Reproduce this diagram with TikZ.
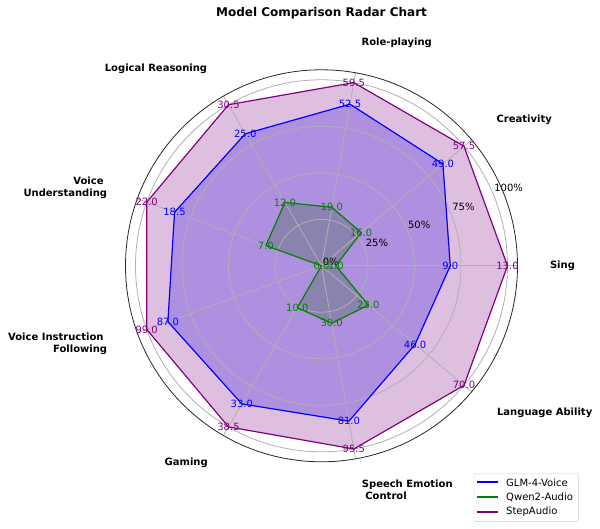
\documentclass[tikz,border=0pt]{standalone}
\usepackage{fontspec}
\setmainfont{DejaVu Sans}
\usepackage{tikz}
\usetikzlibrary{positioning}
\definecolor{glmblue}{RGB}{0,0,255}
\definecolor{qwengreen}{RGB}{0,128,0}
\definecolor{steppurple}{RGB}{128,0,128}
\definecolor{gridgray}{RGB}{176,176,176}

\begin{document}
\begin{tikzpicture}[x=1pt, y=1pt,
		gridline/.style = {gridgray, line width=0.8pt},
		axislabel/.style = {font=\fontsize{10}{11.6}\selectfont\bfseries, inner sep=0pt},
		val/.style = {font=\fontsize{10}{12}\selectfont, inner sep=0pt},
		model/.style = {draw=#1, line width=1.2pt},
		shade/.style = {fill=#1, fill opacity=0.25}]
	\useasboundingbox (-321.5,-263.2) rectangle (278.5,265.8);
	%\draw[help lines] (-300,-250) grid (250,250);
	\def\R{186}
	\coordinate (c) at (0,0);
	% vertices: value / max of the axis
	\foreach \v/\m [count=\i from 0] in {9/13,49/57.5,52.5/59.5,25/30.5,18.5/22,87/99,33/38.5,81/95.5,46/70}
		\coordinate (glm\i) at (\i*40:\v/\m*\R);
	\foreach \v/\m [count=\i from 0] in {1/13,16/57.5,19/59.5,12/30.5,7/22,0/99,10/38.5,30/95.5,23/70}
		\coordinate (qwen\i) at (\i*40:\v/\m*\R);
	\foreach \i in {0,...,8}
		\coordinate (stp\i) at (\i*40:\R);
	% fills first, grid over them
	\foreach \mo/\col in {glm/glmblue,qwen/qwengreen,stp/steppurple}
		\fill[shade=\col] (\mo0) \foreach \i in {1,...,8} {-- (\mo\i)} -- cycle;
	\foreach \r in {0.25,0.5,0.75,1}
		\draw[gridline] (c) circle[radius=\r*\R];
	\foreach \a in {0,40,...,320}
		\draw[gridline] (c) -- (\a:196);
	\foreach \p/\r in {0/10,25/60,50/105.7,75/153.6,100/202.6}
		\node[val] (pct\p) at (22.5:\r) {\p\%};
	% outlines
	\foreach \mo/\col in {glm/glmblue,qwen/qwengreen,stp/steppurple}
		\draw[model=\col] (\mo0) \foreach \i in {1,...,8} {-- (\mo\i)} -- cycle;
	\draw[line width=0.8pt, black!85] (c) circle[radius=196];
	% values
	\foreach \t [count=\i from 0] in {9.0,49.0,52.5,25.0,18.5,87.0,33.0,81.0,46.0}
		\node[val, glmblue] (glmlab\i) at (glm\i) {\t};
	\foreach \t [count=\i from 0] in {1.0,16.0,19.0,12.0,7.0,0.0,10.0,30.0,23.0}
		\node[val, qwengreen] (qwenlab\i) at (qwen\i) {\t};
	\foreach \t [count=\i from 0] in {13.0,57.5,59.5,30.5,22.0,99.0,38.5,95.5,70.0}
		\node[val, steppurple] (stplab\i) at (stp\i) {\t};
	% axis names
	\node[axislabel] (sing) at (241,-0.2) {Sing};
	\node[axislabel] (creativity) at (202.7,146.5) {Creativity};
	\node[axislabel] (roleplay) at (75.2,223.1) {Role-playing};
	\node[axislabel] (logic) at (-165.5,196.8) {Logical Reasoning};
	\node[axislabel, align=right, anchor=east] (understand) at (-214.2,78) {Voice\hspace*{0.35em}\\Understanding};
	\node[axislabel, align=right, anchor=east] (instruct) at (-214.2,-77.7) {Voice Instruction\hspace*{0.35em}\\Following};
	\node[axislabel] (gaming) at (-135.3,-196.9) {Gaming};
	\node[axislabel, align=left, anchor=west] (emotion) at (40.2,-224) {Speech Emotion\\\hspace*{0.35em}Control};
	\node[axislabel] (language) at (223.2,-146.5) {Language Ability};
	\node[font=\fontsize{12}{14}\selectfont\bfseries, inner sep=0pt] (title) at (0,252.5) {Model Comparison Radar Chart};
	% legend
	\draw[rounded corners=2pt, draw=gray!40, fill=white, fill opacity=0.8] (152.5,-207.5) rectangle (256.8,-255.9);
	\foreach \mo/\col/\name/\y in {glm/glmblue/GLM-4-Voice/-216.5, qwen/qwengreen/Qwen2-Audio/-231.2, stp/steppurple/StepAudio/-245.9} {
		\coordinate (\mo-a) at (155.8,\y);
		\coordinate (\mo-b) at (176.8,\y);
		\draw[draw=\col, line width=1.8pt] (\mo-a) -- (\mo-b);
		\node[val, anchor=west] (\mo-key) at (184.5,\y) {\name};
	}
\end{tikzpicture}
\end{document}
